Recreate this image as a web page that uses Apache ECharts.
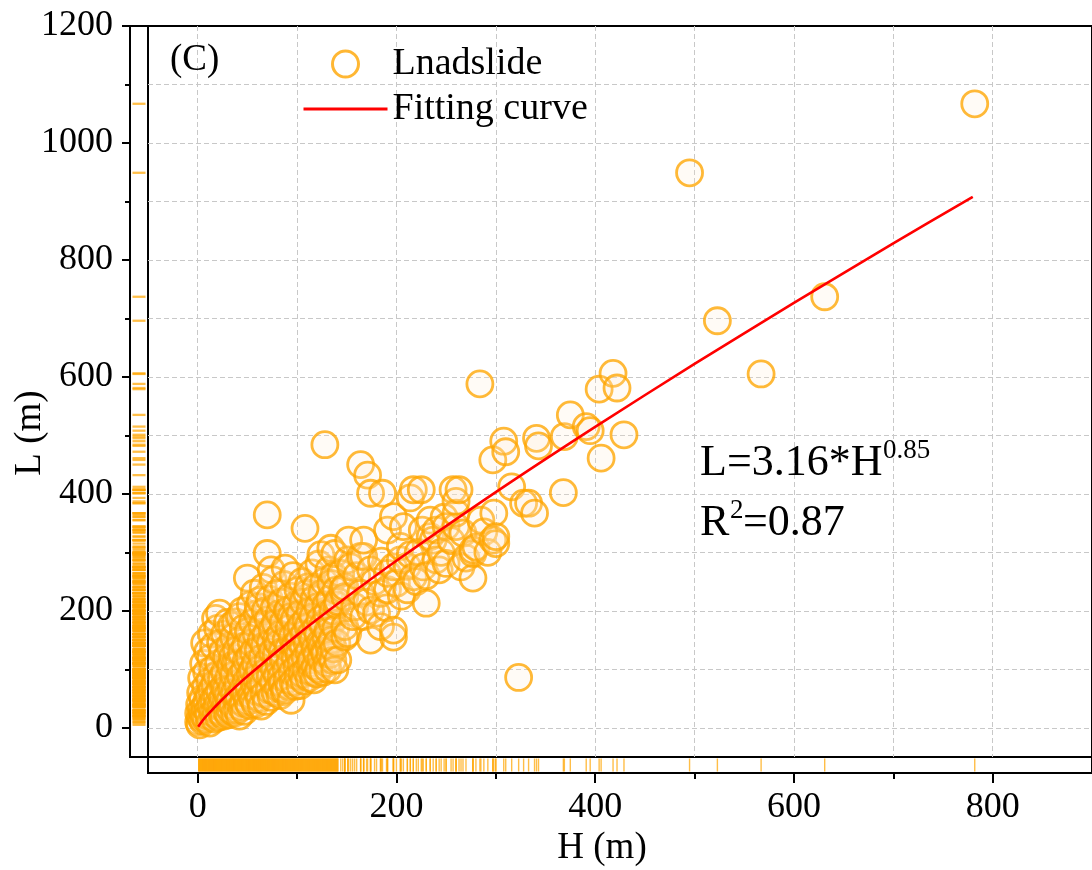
<!DOCTYPE html>
<html><head><meta charset="utf-8">
<script src="https://cdn.jsdelivr.net/npm/echarts@6/dist/echarts.min.js"></script>
<style>html,body{margin:0;padding:0;background:#fff}#c{width:1092px;height:870px}</style>
</head><body><div id="c"></div>
<script>
// Landslide samples: [H (m), L (m)]
const landslides = [
 [1,10],[1,25],[2,5],[2,40],[3,18],[3,60],[4,30],[4,85],[5,12],[5,50],[6,22],[6,110],[7,35],[7,145],[8,15],[8,70],[9,45],[9,95],[10,28],[10,130],
 [11,20],[11,55],[12,8],[12,80],[13,38],[13,120],[14,65],[14,160],[15,25],[15,100],[16,48],[16,140],[17,15],[17,75],[18,30],[18,187],[19,90],[19,55],[20,40],[20,170],
 [21,18],[21,110],[22,196],[22,62],[23,35],[23,145],[24,85],[24,25],[25,130],[25,50],[26,70],[26,20],[27,160],[27,95],[28,40],[28,65],[29,120],[29,28],[30,180],[30,55],
 [31,85],[31,22],[32,140],[32,45],[33,105],[33,30],[34,175],[34,68],[35,121],[35,38],[36,90],[36,155],[37,25],[37,60],[38,181],[38,110],[39,48],[39,133],[40,75],[40,30],
 [41,53],[41,110],[42,190],[42,20],[43,88],[43,150],[44,35],[44,128],[45,65],[45,200],[46,42],[46,170],[47,98],[47,28],[48,59],[48,140],[49,115],[49,80],[50,256],[50,45],
 [51,165],[51,70],[52,38],[52,120],[53,210],[53,92],[54,55],[54,145],[55,99],[55,180],[56,48],[56,130],[57,230],[57,75],[58,110],[58,40],[59,160],[59,85],[60,195],[60,62],
 [61,133],[61,207],[62,50],[62,100],[63,218],[63,78],[64,37],[64,150],[65,120],[65,175],[66,76],[66,240],[67,58],[67,140],[68,95],[68,200],[69,45],[69,160],[70,364],[70,298],
 [71,115],[71,185],[72,65],[72,220],[73,88],[73,145],[74,52],[74,270],[75,130],[75,168],[76,253],[76,78],[77,100],[77,205],[78,179],[78,60],[79,125],[79,150],[80,90],[80,230],
 [81,144],[81,68],[82,195],[82,108],[83,55],[83,160],[84,87],[84,215],[85,130],[85,75],[86,180],[86,118],[87,62],[87,245],[88,65],[88,273],[89,150],[89,100],[90,200],[90,82],
 [91,201],[91,135],[92,70],[92,170],[93,112],[93,225],[94,190],[94,47],[95,95],[95,155],[96,260],[96,78],[97,140],[97,185],[98,71],[98,120],[99,141],[99,210],[100,105],[100,165],
 [101,88],[101,235],[102,150],[102,125],[103,195],[103,72],[104,110],[104,175],[105,250],[105,92],[106,140],[106,215],[107,80],[107,160],[108,341],[108,120],[109,185],[109,98],[110,230],[110,145],
 [111,173],[111,241],[112,85],[112,130],[113,200],[113,110],[114,116],[114,160],[115,265],[115,95],[116,150],[116,190],[117,82],[117,220],[118,135],[118,105],[119,170],[119,240],[120,125],[120,92],
 [121,207],[121,160],[122,100],[122,280],[123,145],[123,185],[124,296],[124,118],[125,230],[125,140],[126,95],[126,175],[127,250],[127,130],[128,127],[128,484],[129,155],[129,210],[130,110],[130,195],
 [131,100],[131,165],[132,270],[132,140],[133,220],[133,125],[134,307],[134,247],[135,180],[135,150],[136,115],[136,200],[137,260],[137,135],[138,99],[138,298],[139,170],[139,235],[140,145],[140,210],
 [141,116],[141,216],[144,264],[146,236],[148,155],[148,173],[148,224],[148,241],[151,161],[151,287],[152,321],[154,275],[156,190],[158,207],[160,260],[164,230],[164,293],[164,450],[167,190],[167,293],
 [167,321],[170,215],[171,432],[174,150],[174,201],[174,270],[174,401],[178,250],[180,196],[184,173],[184,230],[185,285],[186,401],[190,205],[191,236],[191,264],[191,338],[197,155],[197,167],[197,275],
 [197,361],[200,247],[204,287],[204,310],[205,225],[207,344],[211,236],[211,276],[214,296],[214,393],[217,258],[217,407],[220,250],[222,300],[225,407],[226,338],[227,275],[230,213],[230,260],[234,327],
 [234,355],[237,321],[240,287],[240,338],[243,270],[245,300],[248,360],[250,281],[250,344],[255,320],[257,407],[260,344],[260,367],[260,387],[263,407],[265,275],[267,333],[270,290],[277,256],[277,298],
 [277,304],[280,309],[284,588],[285,355],[288,335],[292,300],[297,321],[297,458],[298,367],[300,315],[300,327],[308,490],[310,472],[316,412],[323,86],[328,384],[333,384],[339,367],[341,495],[343,482],
 [368,402],[369,498],[375,535],[391,515],[395,508],[404,579],[406,461],[418,606],[422,581],[429,501],[495,949],[523,696],[567,605],[631,737],[782,1067]
];
// Fitting curve points (L = 3.16*H^0.85)
const curveH = [0.5, 5, 10, 25, 50, 100, 150, 200, 300, 400, 500, 600, 700, 780];
const curveL = [1.8, 12.4, 22.4, 48.8, 87.9, 158.4, 223.5, 285.5, 402.9, 514.5, 622.1, 726.5, 828.2, 908];
// Tick values
const yMajorTicks = [0, 200, 400, 600, 800, 1000, 1200];
const yMinorTicks = [100, 300, 500, 700, 900, 1100];
const xMajorTicks = [0, 200, 400, 600, 800];
const xMinorTicks = [100, 300, 500, 700];
const yGridValues = [0, 100, 200, 300, 400, 500, 600, 700, 800, 900, 1000, 1100];
const xGridValues = [0, 100, 200, 300, 400, 500, 600, 700, 800, 900];

const FONT = 'Liberation Serif';
const chart = echarts.init(document.getElementById('c'));
const dash = {color: '#c8c8c8', type: [5, 3], width: 1};
const black = {color: '#000', width: 2};
const lbl = {fontFamily: FONT, fontSize: 36, color: '#000', formatter: v => String(v)};
const curve = curveH.map((h, i) => [h, curveL[i]]);
const circleFill = 'rgba(255,235,205,0.18)';
const circleStroke = 'rgba(255,165,0,0.78)';

function txt(text, x, y, size, align, rot) {
  return {type: 'text', x: x, y: y, rotation: rot || 0, z: 100,
    style: {text: text, fontFamily: FONT, fontSize: size, fill: '#000',
      align: align || 'left', verticalAlign: 'middle', textAlign: align || 'left', textVerticalAlign: 'middle'}};
}

chart.setOption({
  animation: false,
  backgroundColor: '#fff',
  grid: [
    {left: 148, top: 26, width: 955, height: 731, show: true, borderColor: '#000', borderWidth: 2, backgroundColor: 'transparent'},
    {left: 130, top: 26, width: 18, height: 731, show: true, borderColor: '#000', borderWidth: 2, backgroundColor: 'transparent'},
    {left: 148, top: 757, width: 955, height: 16, show: true, borderColor: '#000', borderWidth: 2, backgroundColor: 'transparent'}
  ],
  xAxis: [
    {gridIndex: 0, type: 'value', min: -50, max: 900, axisLine: {show: false},
     axisTick: {show: false, customValues: xGridValues}, axisLabel: {show: false, customValues: xGridValues},
     splitLine: {show: true, lineStyle: dash}},
    {gridIndex: 1, type: 'value', min: 0, max: 1, show: false},
    {gridIndex: 2, type: 'value', min: -50, max: 900, position: 'bottom',
     axisLine: {show: true, onZero: false, lineStyle: black},
     axisTick: {show: true, inside: false, length: 10, customValues: xMajorTicks, lineStyle: black},
     axisLabel: {show: true, customValues: xMajorTicks, margin: 17, ...lbl},
     splitLine: {show: false}},
    {gridIndex: 2, type: 'value', min: -50, max: 900, position: 'bottom',
     axisLine: {show: false, onZero: false},
     axisTick: {show: true, inside: false, length: 6, customValues: xMinorTicks, lineStyle: black},
     axisLabel: {show: false, customValues: xMinorTicks}, splitLine: {show: false}}
  ],
  yAxis: [
    {gridIndex: 0, type: 'value', min: -50, max: 1200, axisLine: {show: false},
     axisTick: {show: false, customValues: yGridValues}, axisLabel: {show: false, customValues: yGridValues},
     splitLine: {show: true, lineStyle: dash}},
    {gridIndex: 1, type: 'value', min: -50, max: 1200, position: 'left',
     axisLine: {show: true, onZero: false, lineStyle: black},
     axisTick: {show: true, inside: false, length: 8, customValues: yMajorTicks, lineStyle: black},
     axisLabel: {show: true, customValues: yMajorTicks, margin: 17, ...lbl},
     splitLine: {show: false}},
    {gridIndex: 1, type: 'value', min: -50, max: 1200, position: 'left',
     axisLine: {show: false, onZero: false},
     axisTick: {show: true, inside: false, length: 5, customValues: yMinorTicks, lineStyle: black},
     axisLabel: {show: false, customValues: yMinorTicks}, splitLine: {show: false}},
    {gridIndex: 2, type: 'value', min: 0, max: 1, show: false}
  ],
  legend: {
    data: [
      {name: 'Lnadslide', itemStyle: {color: 'rgba(255,255,255,0)', borderColor: 'rgba(255,165,0,0.8)', borderWidth: 3}},
      {name: 'Fitting curve', itemStyle: {color: 'rgba(0,0,0,0)', borderColor: 'rgba(0,0,0,0)', borderWidth: 0, opacity: 0},
       lineStyle: {color: '#ff0000', width: 3}}
    ],
    orient: 'vertical', left: 297, top: 39,
    itemWidth: 84, itemHeight: 26, itemGap: 5, selectedMode: false,
    textStyle: {fontFamily: FONT, fontSize: 38, color: '#000', lineHeight: 40}
  },
  series: [
    {name: 'Lnadslide', type: 'scatter', xAxisIndex: 0, yAxisIndex: 0, data: landslides,
     symbol: 'circle', symbolSize: 26, z: 2,
     itemStyle: {color: circleFill, borderColor: circleStroke, borderWidth: 2.8, opacity: 1}},
    {name: 'Fitting curve', type: 'line', xAxisIndex: 0, yAxisIndex: 0, data: curve,
     smooth: 0.3, symbol: 'none', showSymbol: false, z: 3,
     lineStyle: {color: '#ff0000', width: 2.6}, itemStyle: {color: '#ff0000'}},
    {name: 'rugL', type: 'scatter', xAxisIndex: 1, yAxisIndex: 1, silent: true,
     data: landslides.map(p => [0.5, p[1]]), symbol: 'rect', symbolSize: [13, 2.3],
     itemStyle: {color: 'rgba(255,165,0,0.9)'}},
    {name: 'rugH', type: 'scatter', xAxisIndex: 2, yAxisIndex: 3, silent: true,
     data: landslides.map(p => [p[0], 0.5]), symbol: 'rect', symbolSize: [1.4, 13],
     itemStyle: {color: 'rgba(255,165,0,0.9)'}}
  ],
  graphic: [
    txt('(C)', 170, 60, 37),
    txt('L=3.16*H', 700, 463, 44),
    txt('0.85', 883, 451, 27),
    txt('R', 700, 523, 44),
    txt('2', 730, 511, 27),
    txt('=0.87', 743, 523, 44),
    txt('H (m)', 602, 848, 37, 'center'),
    txt('L (m)', 30, 433, 37, 'center', Math.PI / 2)
  ]
});
</script></body></html>
